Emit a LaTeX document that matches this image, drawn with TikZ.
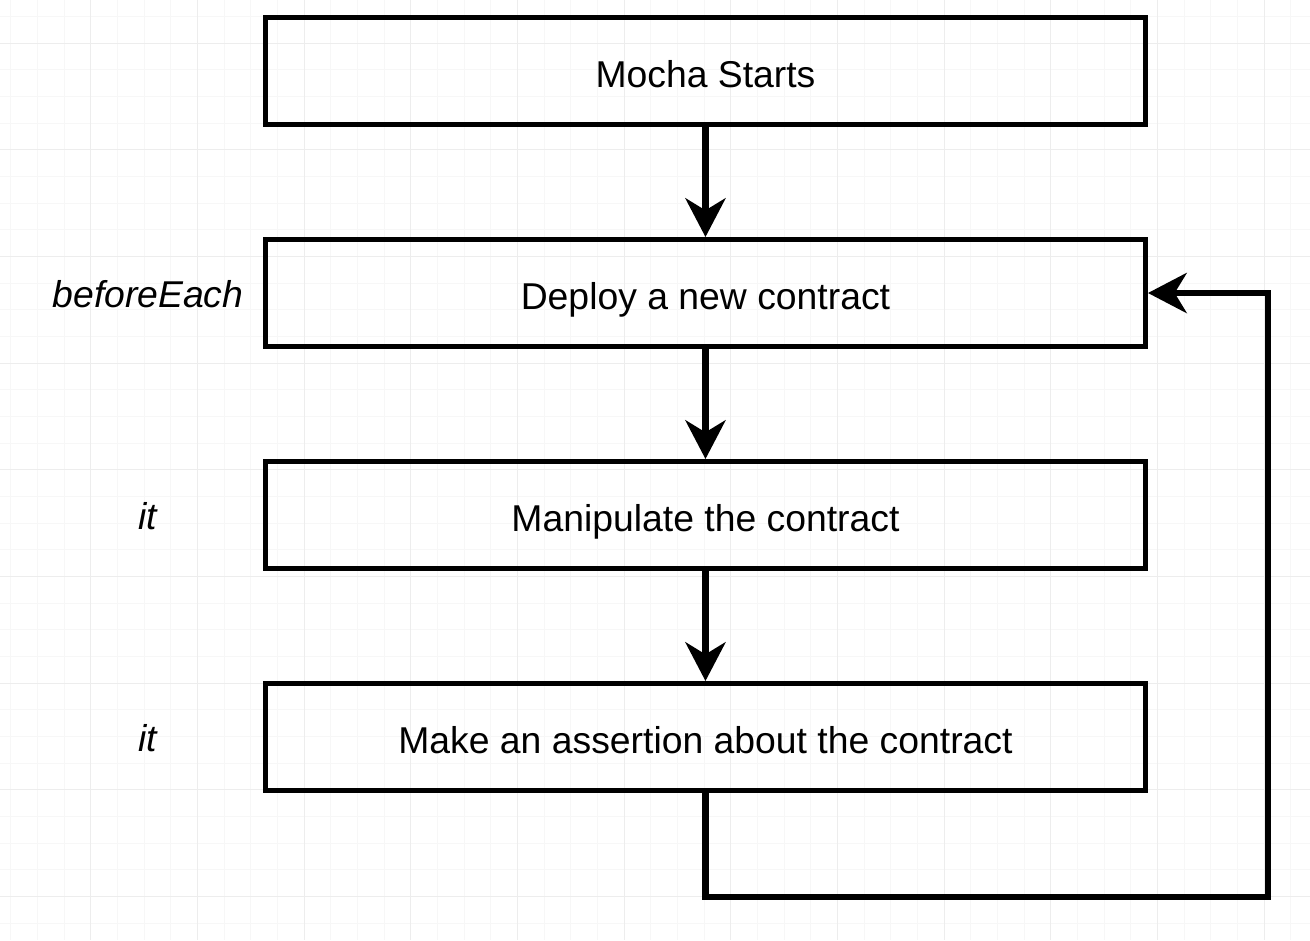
\documentclass[tikz,border=0pt]{standalone}
\usepackage{fontspec}
\setmainfont{Liberation Sans}
\usetikzlibrary{arrows.meta, positioning, calc}

\begin{document}
\begin{tikzpicture}[
        node distance=82.5pt,
        box/.style={rectangle, draw, line width=3.75pt, minimum width=660pt, minimum height=80.25pt, align=center, text height=24pt, text depth=0pt, font=\fontsize{28}{34}\selectfont},
        tag/.style={text height=22pt, text depth=0pt, font=\fontsize{28}{34}\selectfont\itshape},
        arrow/.style={-{Stealth[length=29pt, width=30pt, inset=9pt]}, line width=4.9pt},
        gridminor/.style={draw=black!3, line width=0.75pt},
        gridmajor/.style={draw=black!7, line width=0.75pt}
    ]
        % background and grid
        \fill[white] (0,0) rectangle (982.5pt,-705pt);
        \useasboundingbox (0,0) rectangle (982.5pt,-705pt);
        \begin{scope}[xshift=68pt, yshift=-32.25pt]
            \draw[gridminor, step=20pt] (-68pt,-672.75pt) grid (914.5pt,32.25pt);
            \draw[gridmajor, step=80pt] (-68pt,-672.75pt) grid (914.5pt,32.25pt);
        \end{scope}

        \node[box] (mocha) at (529.1pt,-53.25pt) {Mocha Starts};
        \node[box, below=of mocha] (deploy) {Deploy a new contract};
        \node[box, below=of deploy] (manipulate) {Manipulate the contract};
        \node[box, below=of manipulate] (assert) {Make an assertion about the contract};

        \node[tag] (hook) at ([xshift=-86.25pt]deploy.west) {beforeEach};
        \node[tag] (itfirst) at ([xshift=-86.25pt]manipulate.west) {it};
        \node[tag] (itsecond) at ([xshift=-86.25pt]assert.west) {it};

        \draw[arrow] (mocha) -- (deploy);
        \draw[arrow] (deploy) -- (manipulate);
        \draw[arrow] (manipulate) -- (assert);

        % back to beforeEach for the next it
        \coordinate (loopturn) at ($(deploy.east |- assert.south)+(90pt,-78pt)$);
        \draw[arrow] (assert.south) |- (loopturn) |- (deploy.east);
    \end{tikzpicture}
\end{document}
